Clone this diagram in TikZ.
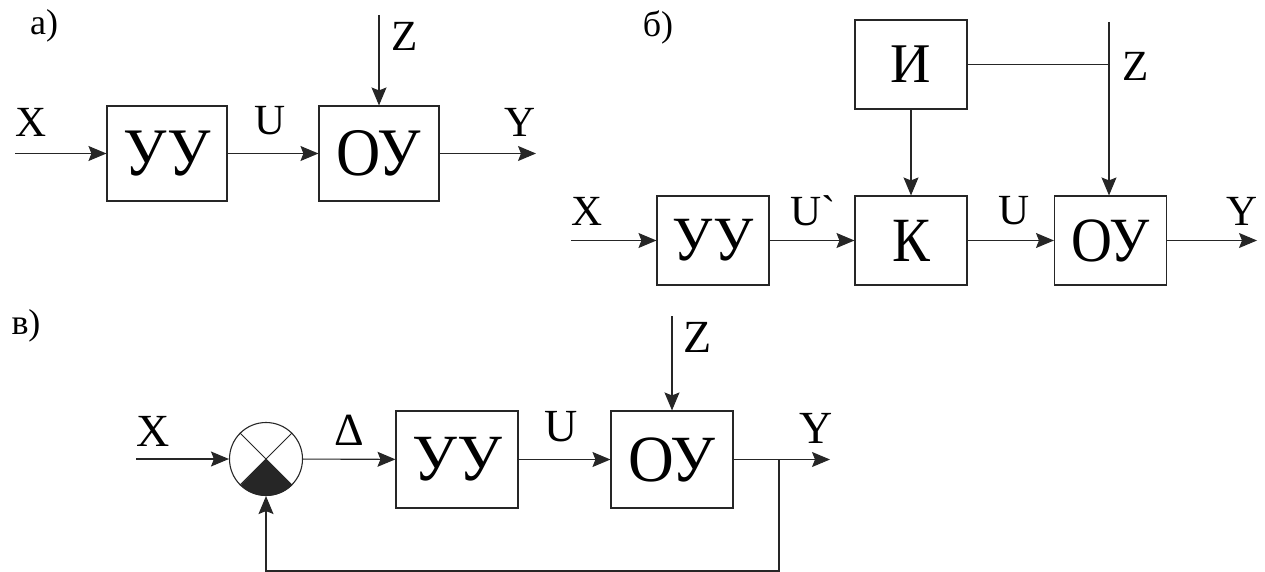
\documentclass[tikz,border=0pt]{standalone}
\usepackage{fontspec}
\setmainfont{Liberation Serif}
\newfontfamily\boxfont{Liberation Serif}[FakeStretch=0.9]
\newfontfamily\boxfontc{Liberation Serif}[FakeStretch=0.96]
\usetikzlibrary{arrows.meta}

\colorlet{linecol}{black!85}

\tikzset{
  box/.style={draw=linecol, line width=1.1pt, inner sep=0pt},
  boxa/.style={box, minimum width=120pt, minimum height=95pt, font=\boxfont\fontsize{68}{68}\selectfont},
  boxb/.style={box, minimum width=112pt, minimum height=89pt, font=\boxfont\fontsize{63}{63}\selectfont},
  boxc/.style={box, minimum width=122pt, minimum height=97pt, font=\boxfontc\fontsize{66}{66}\selectfont},
  lbl/.style={inner sep=0pt, font=\fontsize{43}{43}\selectfont},
  lblc/.style={inner sep=0pt, font=\fontsize{46}{46}\selectfont},
  part/.style={inner sep=0pt, font=\fontsize{36}{36}\selectfont},
  wire/.style={draw=linecol, line width=1.1pt},
  sig/.style={wire, -{Stealth[length=18pt, width=15pt, inset=3pt]}},
}

\begin{document}
\begin{tikzpicture}[x=1pt, y=-1pt]

    \useasboundingbox (0,0) rectangle (1265,572);

    % 1. Schema a)
    \node[part] (pa) at (44,26) {а)};
    \node[boxa] (uya) at (167,153.5) {УУ};
    \node[boxa] (oya) at (379,153.5) {ОУ};
    \coordinate (xa) at (15,153.5);
    \coordinate (ya) at (536,153.5);
    \coordinate (za) at (379,15);

    \draw[sig] (xa) -- (uya);
    \draw[sig] (uya) -- (oya);
    \draw[sig] (oya) -- (ya);
    \draw[sig] (za) -- (oya);

    \node[lbl] (lxa) at (31,122) {X};
    \node[lbl] (lua) at (270,121) {U};
    \node[lbl] (lya) at (520,122) {Y};
    \node[lbl] (lza) at (405,36) {Z};

    % 2. Schema б)
    \node[part] (pb) at (658,27) {б)};
    \node[boxb, font=\fontsize{56}{56}\selectfont] (ib) at (911,64.5) {И};
    \node[boxb] (uyb) at (713,240.5) {УУ};
    \node[boxb] (kb) at (911,240.5) {К};
    \node[boxb] (oyb) at (1110.5,240.5) {ОУ};
    \coordinate (xb) at (571,240.5);
    \coordinate (yb) at (1257,240.5);
    \coordinate (zb) at (1109,22);

    \draw[sig] (xb) -- (uyb);
    \draw[sig] (uyb) -- (kb);
    \draw[sig] (kb) -- (oyb);
    \draw[sig] (oyb) -- (yb);
    \draw[sig] (ib) -- (kb);
    \draw[sig] (zb) -- (zb |- oyb.north);
    \draw[wire] (ib.east) -- (ib.east -| zb);

    \node[lbl] (lxb) at (587,211) {X};
    \node[lbl] (lub1) at (813,211) {U\textasciigrave};
    \node[lbl] (lub) at (1014,211) {U};
    \node[lbl] (lyb) at (1242,211) {Y};
    \node[lbl] (lzb) at (1136,66) {Z};

    % 3. Schema в) mit Rueckfuehrung
    \node[part] (pc) at (26,326) {в)};
    \node[circle, draw=linecol, line width=1.1pt, minimum size=73pt, inner sep=0pt] (sum) at (266,459) {};
    \fill[linecol] (sum.center) -- (sum.-45) arc[start angle=-45, end angle=-135, radius=36.5pt] -- cycle;
    \draw[wire, line width=0.8pt] (sum.45) -- (sum.-135) (sum.135) -- (sum.-45);
    \node[boxc] (uyc) at (457,459.5) {УУ};
    \node[boxc] (oyc) at (672,459.5) {ОУ};
    \coordinate (xc) at (136,459);
    \coordinate (yc) at (830,459.5);
    \coordinate (zc) at (672,316);
    \coordinate (br) at (779,459.5);
    \coordinate (fb) at (779,571);

    \draw[sig] (xc) -- (sum);
    \draw[sig] (sum) -- (uyc);
    \draw[sig] (uyc) -- (oyc);
    \draw[sig] (oyc) -- (yc);
    \draw[sig] (zc) -- (oyc);
    \draw[sig] (br) -- (fb) -| (sum.south);

    \node[lblc] (lxc) at (153,431) {X};
    \node[lblc] (ldc) at (349,430) {Δ};
    \node[lblc] (luc) at (561,427) {U};
    \node[lblc] (lyc) at (816,428) {Y};
    \node[lblc] (lzc) at (698,337) {Z};

\end{tikzpicture}
\end{document}
